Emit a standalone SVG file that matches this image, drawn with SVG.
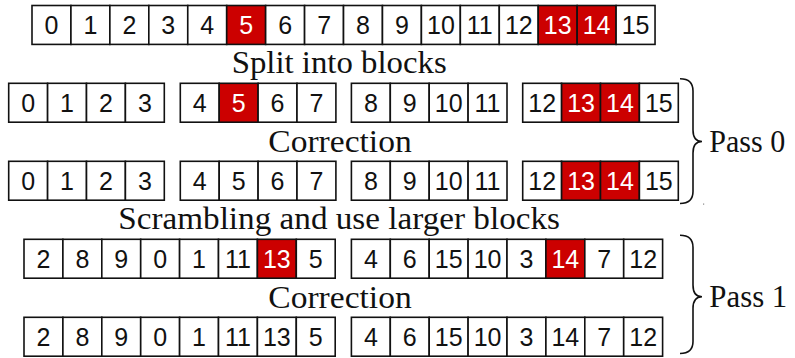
<svg xmlns="http://www.w3.org/2000/svg" width="795" height="358" viewBox="0 0 795 358">
<style>
.c{fill:#fff;stroke:#111;stroke-width:1.6}
.r{fill:#cc0000;stroke:#111;stroke-width:1.6}
.n{font-family:"Liberation Sans",Arial,sans-serif;font-size:25px;text-anchor:middle;fill:#111}
.w{fill:#fff}
.t{font-family:"Liberation Serif","Times New Roman",serif;font-size:31px;fill:#111}
.b{fill:none;stroke:#111;stroke-width:1.6}
</style>
<rect width="795" height="358" fill="#fff"/>
<g id="row0">
<rect class="c" x="32" y="5.5" width="38.94" height="38.9"/><text class="n" x="51.5" y="34.3">0</text>
<rect class="c" x="70.94" y="5.5" width="38.94" height="38.9"/><text class="n" x="90.4" y="34.3">1</text>
<rect class="c" x="109.88" y="5.5" width="38.94" height="38.9"/><text class="n" x="129.4" y="34.3">2</text>
<rect class="c" x="148.82" y="5.5" width="38.94" height="38.9"/><text class="n" x="168.3" y="34.3">3</text>
<rect class="c" x="187.76" y="5.5" width="38.94" height="38.9"/><text class="n" x="207.2" y="34.3">4</text>
<rect class="r" x="226.7" y="5.5" width="38.94" height="38.9"/><text class="n w" x="246.2" y="34.3">5</text>
<rect class="c" x="265.64" y="5.5" width="38.94" height="38.9"/><text class="n" x="285.1" y="34.3">6</text>
<rect class="c" x="304.58" y="5.5" width="38.94" height="38.9"/><text class="n" x="324.1" y="34.3">7</text>
<rect class="c" x="343.52" y="5.5" width="38.94" height="38.9"/><text class="n" x="363" y="34.3">8</text>
<rect class="c" x="382.46" y="5.5" width="38.94" height="38.9"/><text class="n" x="401.9" y="34.3">9</text>
<rect class="c" x="421.4" y="5.5" width="38.94" height="38.9"/><text class="n" x="440.9" y="34.3">10</text>
<rect class="c" x="460.34" y="5.5" width="38.94" height="38.9"/><text class="n" x="479.8" y="34.3">11</text>
<rect class="c" x="499.28" y="5.5" width="38.94" height="38.9"/><text class="n" x="518.8" y="34.3">12</text>
<rect class="r" x="538.22" y="5.5" width="38.94" height="38.9"/><text class="n w" x="557.7" y="34.3">13</text>
<rect class="r" x="577.16" y="5.5" width="38.94" height="38.9"/><text class="n w" x="596.6" y="34.3">14</text>
<rect class="c" x="616.1" y="5.5" width="38.94" height="38.9"/><text class="n" x="635.6" y="34.3">15</text>
</g>
<text id="lbl-split" class="t" x="231.7" y="73.3" textLength="215" lengthAdjust="spacingAndGlyphs">Split into blocks</text>
<g id="p0-split">
<g id="p0s-b0">
<rect class="c" x="8.7" y="83.3" width="38.9" height="38.9"/><text class="n" x="28.15" y="112.1">0</text>
<rect class="c" x="47.6" y="83.3" width="38.9" height="38.9"/><text class="n" x="67.05" y="112.1">1</text>
<rect class="c" x="86.5" y="83.3" width="38.9" height="38.9"/><text class="n" x="105.95" y="112.1">2</text>
<rect class="c" x="125.4" y="83.3" width="38.9" height="38.9"/><text class="n" x="144.85" y="112.1">3</text>
</g>
<g id="p0s-b1">
<rect class="c" x="180.3" y="83.3" width="38.9" height="38.9"/><text class="n" x="199.75" y="112.1">4</text>
<rect class="r" x="219.2" y="83.3" width="38.9" height="38.9"/><text class="n w" x="238.65" y="112.1">5</text>
<rect class="c" x="258.1" y="83.3" width="38.9" height="38.9"/><text class="n" x="277.55" y="112.1">6</text>
<rect class="c" x="297" y="83.3" width="38.9" height="38.9"/><text class="n" x="316.45" y="112.1">7</text>
</g>
<g id="p0s-b2">
<rect class="c" x="351.4" y="83.3" width="38.9" height="38.9"/><text class="n" x="370.85" y="112.1">8</text>
<rect class="c" x="390.3" y="83.3" width="38.9" height="38.9"/><text class="n" x="409.75" y="112.1">9</text>
<rect class="c" x="429.2" y="83.3" width="38.9" height="38.9"/><text class="n" x="448.65" y="112.1">10</text>
<rect class="c" x="468.1" y="83.3" width="38.9" height="38.9"/><text class="n" x="487.55" y="112.1">11</text>
</g>
<g id="p0s-b3">
<rect class="c" x="522.7" y="83.3" width="38.9" height="38.9"/><text class="n" x="542.15" y="112.1">12</text>
<rect class="r" x="561.6" y="83.3" width="38.9" height="38.9"/><text class="n w" x="581.05" y="112.1">13</text>
<rect class="r" x="600.5" y="83.3" width="38.9" height="38.9"/><text class="n w" x="619.95" y="112.1">14</text>
<rect class="c" x="639.4" y="83.3" width="38.9" height="38.9"/><text class="n" x="658.85" y="112.1">15</text>
</g>
</g>
<text id="lbl-corr0" class="t" x="268.3" y="151.7" textLength="143.4" lengthAdjust="spacingAndGlyphs">Correction</text>
<g id="p0-corr">
<g id="p0c-b0">
<rect class="c" x="8.7" y="161.3" width="38.9" height="38.9"/><text class="n" x="28.15" y="190.1">0</text>
<rect class="c" x="47.6" y="161.3" width="38.9" height="38.9"/><text class="n" x="67.05" y="190.1">1</text>
<rect class="c" x="86.5" y="161.3" width="38.9" height="38.9"/><text class="n" x="105.95" y="190.1">2</text>
<rect class="c" x="125.4" y="161.3" width="38.9" height="38.9"/><text class="n" x="144.85" y="190.1">3</text>
</g>
<g id="p0c-b1">
<rect class="c" x="180.3" y="161.3" width="38.9" height="38.9"/><text class="n" x="199.75" y="190.1">4</text>
<rect class="c" x="219.2" y="161.3" width="38.9" height="38.9"/><text class="n" x="238.65" y="190.1">5</text>
<rect class="c" x="258.1" y="161.3" width="38.9" height="38.9"/><text class="n" x="277.55" y="190.1">6</text>
<rect class="c" x="297" y="161.3" width="38.9" height="38.9"/><text class="n" x="316.45" y="190.1">7</text>
</g>
<g id="p0c-b2">
<rect class="c" x="351.4" y="161.3" width="38.9" height="38.9"/><text class="n" x="370.85" y="190.1">8</text>
<rect class="c" x="390.3" y="161.3" width="38.9" height="38.9"/><text class="n" x="409.75" y="190.1">9</text>
<rect class="c" x="429.2" y="161.3" width="38.9" height="38.9"/><text class="n" x="448.65" y="190.1">10</text>
<rect class="c" x="468.1" y="161.3" width="38.9" height="38.9"/><text class="n" x="487.55" y="190.1">11</text>
</g>
<g id="p0c-b3">
<rect class="c" x="522.7" y="161.3" width="38.9" height="38.9"/><text class="n" x="542.15" y="190.1">12</text>
<rect class="r" x="561.6" y="161.3" width="38.9" height="38.9"/><text class="n w" x="581.05" y="190.1">13</text>
<rect class="r" x="600.5" y="161.3" width="38.9" height="38.9"/><text class="n w" x="619.95" y="190.1">14</text>
<rect class="c" x="639.4" y="161.3" width="38.9" height="38.9"/><text class="n" x="658.85" y="190.1">15</text>
</g>
</g>
<text id="lbl-scr" class="t" x="118.3" y="229.3" textLength="441.7" lengthAdjust="spacingAndGlyphs">Scrambling and use larger blocks</text>
<g id="p1-scr">
<g id="p1s-b0">
<rect class="c" x="24" y="239.3" width="38.9" height="38.9"/><text class="n" x="43.45" y="268.1">2</text>
<rect class="c" x="62.9" y="239.3" width="38.9" height="38.9"/><text class="n" x="82.35" y="268.1">8</text>
<rect class="c" x="101.8" y="239.3" width="38.9" height="38.9"/><text class="n" x="121.25" y="268.1">9</text>
<rect class="c" x="140.7" y="239.3" width="38.9" height="38.9"/><text class="n" x="160.15" y="268.1">0</text>
<rect class="c" x="179.6" y="239.3" width="38.9" height="38.9"/><text class="n" x="199.05" y="268.1">1</text>
<rect class="c" x="218.5" y="239.3" width="38.9" height="38.9"/><text class="n" x="237.95" y="268.1">11</text>
<rect class="r" x="257.4" y="239.3" width="38.9" height="38.9"/><text class="n w" x="276.85" y="268.1">13</text>
<rect class="c" x="296.3" y="239.3" width="38.9" height="38.9"/><text class="n" x="315.75" y="268.1">5</text>
</g>
<g id="p1s-b1">
<rect class="c" x="351.4" y="239.3" width="38.9" height="38.9"/><text class="n" x="370.85" y="268.1">4</text>
<rect class="c" x="390.3" y="239.3" width="38.9" height="38.9"/><text class="n" x="409.75" y="268.1">6</text>
<rect class="c" x="429.2" y="239.3" width="38.9" height="38.9"/><text class="n" x="448.65" y="268.1">15</text>
<rect class="c" x="468.1" y="239.3" width="38.9" height="38.9"/><text class="n" x="487.55" y="268.1">10</text>
<rect class="c" x="507" y="239.3" width="38.9" height="38.9"/><text class="n" x="526.45" y="268.1">3</text>
<rect class="r" x="545.9" y="239.3" width="38.9" height="38.9"/><text class="n w" x="565.35" y="268.1">14</text>
<rect class="c" x="584.8" y="239.3" width="38.9" height="38.9"/><text class="n" x="604.25" y="268.1">7</text>
<rect class="c" x="623.7" y="239.3" width="38.9" height="38.9"/><text class="n" x="643.15" y="268.1">12</text>
</g>
</g>
<text id="lbl-corr1" class="t" x="268.3" y="307.7" textLength="143.4" lengthAdjust="spacingAndGlyphs">Correction</text>
<g id="p1-corr">
<g id="p1c-b0">
<rect class="c" x="24" y="317.3" width="38.9" height="38.9"/><text class="n" x="43.45" y="346.1">2</text>
<rect class="c" x="62.9" y="317.3" width="38.9" height="38.9"/><text class="n" x="82.35" y="346.1">8</text>
<rect class="c" x="101.8" y="317.3" width="38.9" height="38.9"/><text class="n" x="121.25" y="346.1">9</text>
<rect class="c" x="140.7" y="317.3" width="38.9" height="38.9"/><text class="n" x="160.15" y="346.1">0</text>
<rect class="c" x="179.6" y="317.3" width="38.9" height="38.9"/><text class="n" x="199.05" y="346.1">1</text>
<rect class="c" x="218.5" y="317.3" width="38.9" height="38.9"/><text class="n" x="237.95" y="346.1">11</text>
<rect class="c" x="257.4" y="317.3" width="38.9" height="38.9"/><text class="n" x="276.85" y="346.1">13</text>
<rect class="c" x="296.3" y="317.3" width="38.9" height="38.9"/><text class="n" x="315.75" y="346.1">5</text>
</g>
<g id="p1c-b1">
<rect class="c" x="351.4" y="317.3" width="38.9" height="38.9"/><text class="n" x="370.85" y="346.1">4</text>
<rect class="c" x="390.3" y="317.3" width="38.9" height="38.9"/><text class="n" x="409.75" y="346.1">6</text>
<rect class="c" x="429.2" y="317.3" width="38.9" height="38.9"/><text class="n" x="448.65" y="346.1">15</text>
<rect class="c" x="468.1" y="317.3" width="38.9" height="38.9"/><text class="n" x="487.55" y="346.1">10</text>
<rect class="c" x="507" y="317.3" width="38.9" height="38.9"/><text class="n" x="526.45" y="346.1">3</text>
<rect class="c" x="545.9" y="317.3" width="38.9" height="38.9"/><text class="n" x="565.35" y="346.1">14</text>
<rect class="c" x="584.8" y="317.3" width="38.9" height="38.9"/><text class="n" x="604.25" y="346.1">7</text>
<rect class="c" x="623.7" y="317.3" width="38.9" height="38.9"/><text class="n" x="643.15" y="346.1">12</text>
</g>
</g>
<g id="braces">
<path class="b" d="M680,78.8 Q693,78.8 693,91 L693,130 Q693,141.5 702,141.5 Q693,141.5 693,153 L693,191.5 Q693,203.5 680,203.5"/>
<path class="b" d="M680,235.3 Q693,235.3 693,247.5 L693,285 Q693,296.8 702,296.8 Q693,296.8 693,308.5 L693,341.5 Q693,353.5 680,353.5"/>
</g>
<text id="lbl-pass0" class="t" x="709.3" y="151.7" textLength="76" lengthAdjust="spacingAndGlyphs">Pass 0</text>
<text id="lbl-pass1" class="t" x="709.3" y="306.7" textLength="78" lengthAdjust="spacingAndGlyphs">Pass 1</text>
<rect x="703" y="203.5" width="1.2" height="1.2" fill="#888"/>
</svg>
